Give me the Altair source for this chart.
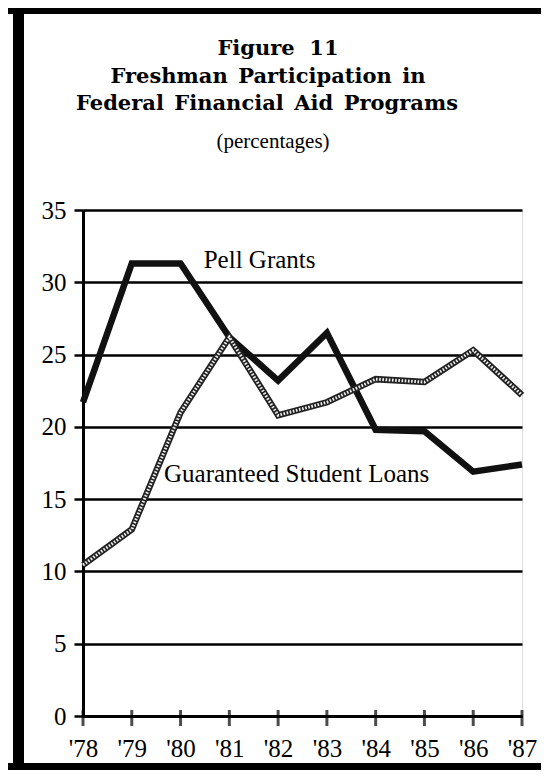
import altair as alt
import pandas as pd

years = [1978, 1979, 1980, 1981, 1982, 1983, 1984, 1985, 1986, 1987]
pell = [21.7, 31.3, 31.3, 26.2, 23.2, 26.5, 19.8, 19.7, 16.9, 17.4]
gsl = [10.45, 12.9, 21.0, 26.2, 20.8, 21.7, 23.3, 23.1, 25.3, 22.2]
y_ticks = [0, 5, 10, 15, 20, 25, 30, 35]
label_text = ["Pell Grants", "Guaranteed Student Loans"]
label_year = [1981.62, 1982.38]
label_value = [31.0, 16.2]

sp = "\u2002"
title_lines = [
    "Figure" + sp + "\u2009" + "11",
    "Freshman" + sp + "Participation" + sp + "in",
    "Federal" + sp + "Financial" + sp + "Aid" + sp + "Programs",
]
subtitle_text = "(percentages)"

SERIF = "Liberation Serif"
TITLE_FONT = "DejaVu Serif"

df_pell = pd.DataFrame({"year": years, "value": pell})
df_gsl = pd.DataFrame({"year": years, "value": gsl})
df_ticks = pd.DataFrame({"year": years, "value": [0] * len(years)})
df_labels = pd.DataFrame({"year": label_year, "value": label_value, "text": label_text})
df_one = pd.DataFrame({"k": [0]})

x_enc = alt.X(
    "year:Q",
    scale=alt.Scale(domain=[1978, 1987], nice=False, zero=False),
    axis=alt.Axis(
        values=years, format="d",
        labelExpr="\"'\" + substring(datum.label, 2)",
        ticks=False, grid=False,
        domainColor="black", domainWidth=3,
        labelFont=SERIF, labelFontSize=25, labelColor="black",
        labelPadding=20, labelFlush=False, labelOverlap=False,
        title=None,
    ),
)
y_enc = alt.Y(
    "value:Q",
    scale=alt.Scale(domain=[0, 35], nice=False),
    axis=alt.Axis(
        values=y_ticks, grid=True, gridColor="black", gridWidth=2.5, gridOpacity=1,
        domainColor="black", domainWidth=3,
        tickColor="black", tickWidth=2.5, tickSize=9,
        labelFont=SERIF, labelFontSize=25, labelColor="black", labelPadding=8,
        labelFlush=False, labelOverlap=False,
        title=None,
    ),
)

pell_line = alt.Chart(df_pell).mark_line(
    color="#111111", strokeWidth=6.5, strokeJoin="miter", strokeCap="butt"
).encode(x=x_enc, y=y_enc)

gsl_base = alt.Chart(df_gsl).mark_line(
    color="#222222", strokeWidth=6.5, strokeJoin="miter", strokeCap="butt"
).encode(x=x_enc, y=y_enc)
gsl_pattern = alt.Chart(df_gsl).mark_line(
    color="#eeeeee", strokeWidth=3, strokeDash=[1.6, 1.6], strokeJoin="miter", strokeCap="butt"
).encode(x=x_enc, y=y_enc)

ticks = alt.Chart(df_ticks).mark_tick(
    orient="vertical", size=16, thickness=3, color="black", yOffset=2
).encode(x=x_enc, y=y_enc)

labels = alt.Chart(df_labels).mark_text(
    font=SERIF, fontSize=25, color="black", align="center", baseline="alphabetic"
).encode(x=x_enc, y=y_enc, text="text:N")

# decorative frame (pixel offsets relative to the plot area)
frame_top = alt.Chart(df_one).mark_rule(color="black", strokeWidth=6).encode(
    x=alt.value(-75), x2=alt.value(460), y=alt.value(-199)
)
frame_left = alt.Chart(df_one).mark_rule(color="black", strokeWidth=11).encode(
    x=alt.value(-64.5), y=alt.value(-202), y2=alt.value(562)
)
frame_bottom = alt.Chart(df_one).mark_rule(color="black", strokeWidth=7).encode(
    x=alt.value(-75), x2=alt.value(460), y=alt.value(556.5)
)

# title block as text (centres / baselines relative to the plot area)
title_marks = []
for line, xc, yb in zip(title_lines, [195, 185, 184], [-155, -127, -100]):
    title_marks.append(
        alt.Chart(df_one).mark_text(
            text=line, font=TITLE_FONT, fontSize=21, fontWeight="bold", color="black",
            align="center", baseline="alphabetic",
        ).encode(x=alt.value(xc), y=alt.value(yb))
    )
subtitle_mark = alt.Chart(df_one).mark_text(
    text=subtitle_text, font=SERIF, fontSize=21, color="black",
    align="center", baseline="alphabetic",
).encode(x=alt.value(190), y=alt.value(-62))

chart = alt.layer(
    ticks, pell_line, gsl_base, gsl_pattern, labels,
    frame_top, frame_left, frame_bottom, *title_marks, subtitle_mark
).properties(
    width=439, height=506,
    autosize=alt.AutoSizeParams(type="none"),
    padding={"left": 75, "top": 202, "right": 19, "bottom": 54},
).configure_view(stroke="transparent").configure(background="white")

chart.save("out.html", embed_options={"renderer": "svg", "actions": False})
